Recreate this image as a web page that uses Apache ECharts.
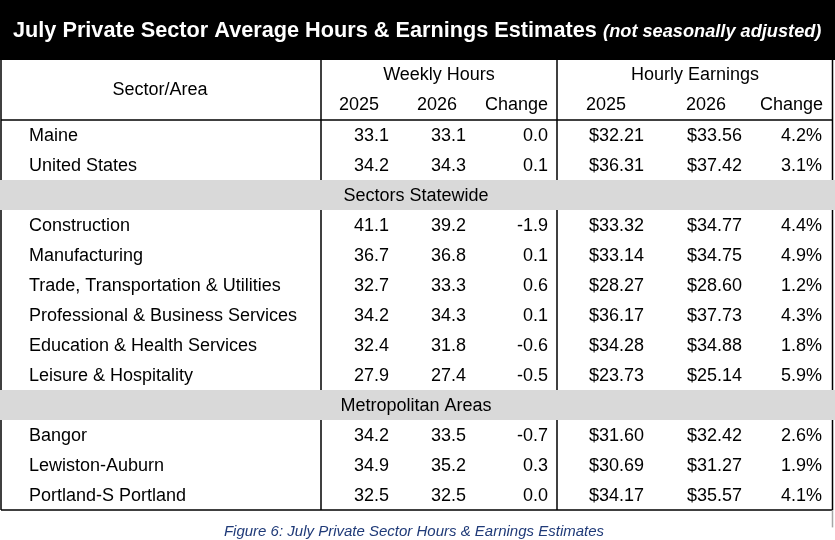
<!DOCTYPE html>
<html>
<head>
<meta charset="utf-8">
<script src="https://cdn.jsdelivr.net/npm/echarts@6/dist/echarts.min.js"></script>
<style>
html,body{margin:0;padding:0;background:#fff;}
#chart{width:835px;height:540px;}
</style>
</head>
<body>
<div id="chart"></div>
<script>
// ---------- DATA ----------
const titleMain = 'July Private Sector Average Hours & Earnings Estimates';
const titleNote = '(not seasonally adjusted)';
const caption = 'Figure 6: July Private Sector Hours & Earnings Estimates';
const firstHeader = 'Sector/Area';
const groupHeaders = ['Weekly Hours', 'Hourly Earnings'];
const subHeaders = ['2025', '2026', 'Change'];
const sectors = ['Maine', 'United States', 'Construction', 'Manufacturing',
  'Trade, Transportation & Utilities', 'Professional & Business Services',
  'Education & Health Services', 'Leisure & Hospitality',
  'Bangor', 'Lewiston-Auburn', 'Portland-S Portland'];
const hours2025 = [33.1, 34.2, 41.1, 36.7, 32.7, 34.2, 32.4, 27.9, 34.2, 34.9, 32.5];
const hours2026 = [33.1, 34.3, 39.2, 36.8, 33.3, 34.3, 31.8, 27.4, 33.5, 35.2, 32.5];
const hoursChange = [0.0, 0.1, -1.9, 0.1, 0.6, 0.1, -0.6, -0.5, -0.7, 0.3, 0.0];
const earnings2025 = [32.21, 36.31, 33.32, 33.14, 28.27, 36.17, 34.28, 23.73, 31.60, 30.69, 34.17];
const earnings2026 = [33.56, 37.42, 34.77, 34.75, 28.60, 37.73, 34.88, 25.14, 32.42, 31.27, 35.57];
const earningsChange = [4.2, 3.1, 4.4, 4.9, 1.2, 4.3, 1.8, 5.9, 2.6, 1.9, 4.1];
const sectionLabels = ['Sectors Statewide', 'Metropolitan Areas'];
const sectionStarts = [2, 8]; // section label placed before this sector index

// ---------- LAYOUT (positions in axis units: x = px columns, y = table rows) ----------
const FONT = '"Liberation Sans", Arial, sans-serif';
const L = {
  width: 835, rows: 18,
  titleX: 13, titleRow: 0.98,
  nameX: 29, sectorAreaX: 160,
  groupX: [439, 695],
  subX: [[359, 437, 548], [606, 706, 823]],
  subAlign: ['center', 'center', 'right'],
  valX: [389, 466, 548, 644, 742, 822],
  sectionX: 416,
  captionX: 414, captionRow: 17.72,
  left: 1, right: 832.5, divs: [321, 557],
  headerTop: 2, bodyTop: 4, bodyShift: 0.05
};

// ---------- BUILD TABLE ROWS ----------
const bodyRows = [];
sectors.forEach((s, i) => {
  const si = sectionStarts.indexOf(i);
  if (si >= 0) bodyRows.push({ section: sectionLabels[si] });
  bodyRows.push({ i });
});
const bodyBottom = L.bodyTop + bodyRows.length;

const cells = [];
const txt = (x, y, text, align, style) => cells.push({ x, y, text, align, style: style || {} });

// title
cells.push({ x: L.titleX, y: L.titleRow, align: 'left',
  text: '{a|' + titleMain + '} {b|' + titleNote + '}', rich: true });
// headers
txt(L.sectorAreaX, L.headerTop + 1, firstHeader, 'center');
groupHeaders.forEach((g, gi) => {
  txt(L.groupX[gi], L.headerTop + 0.5, g, 'center');
  subHeaders.forEach((s, si) => txt(L.subX[gi][si], L.headerTop + 1.5, s, L.subAlign[si]));
});
// body
const sections = [];
bodyRows.forEach((r, k) => {
  const y = L.bodyTop + k + 0.5 + L.bodyShift;
  if (r.section) {
    sections.push(L.bodyTop + k);
    txt(L.sectionX, y, r.section, 'center');
    return;
  }
  const i = r.i;
  txt(L.nameX, y, sectors[i], 'left');
  const vals = [
    hours2025[i].toFixed(1), hours2026[i].toFixed(1), hoursChange[i].toFixed(1),
    '$' + earnings2025[i].toFixed(2), '$' + earnings2026[i].toFixed(2),
    earningsChange[i].toFixed(1) + '%'
  ];
  vals.forEach((v, c) => txt(L.valX[c], y, v, 'right'));
});
// caption
txt(L.captionX, L.captionRow, caption, 'center',
  { fontSize: 15, fontStyle: 'italic', fill: '#1f3a78' });

// rectangles: [x1, y1, x2, y2, colorIndex]
const rectColors = ['#000000', '#d9d9d9'];
const rects = [[0, 0, L.width, L.headerTop, 0]];
sections.forEach(r => rects.push([0, r, L.width, r + 1, 1]));

// rules: [x1, y1, x2, y2, colorIndex]
const ruleColors = ['#000000', '#a6a6a6'];
const rules = [
  [L.left, L.bodyTop, L.right, L.bodyTop, 0],
  [L.left, bodyBottom, L.right, bodyBottom, 0],
  [L.left, L.headerTop, L.left, bodyBottom, 0],
  [L.right, L.headerTop, L.right, bodyBottom, 0],
  [L.divs[0], L.headerTop, L.divs[0], bodyBottom, 0],
  [L.divs[1], L.headerTop, L.divs[1], bodyBottom, 0],
  [L.right, bodyBottom, L.right, bodyBottom + 0.58, 1]
];

// ---------- CHART ----------
const chart = echarts.init(document.getElementById('chart'), null, { renderer: 'canvas' });
chart.setOption({
  animation: false,
  grid: { left: 0, right: 0, top: 0, bottom: 0, containLabel: false },
  xAxis: { type: 'value', min: 0, max: L.width, show: false },
  yAxis: { type: 'value', min: 0, max: L.rows, inverse: true, show: false },
  series: [
    {
      type: 'custom', z: 2, silent: true,
      encode: { x: [0, 2], y: [1, 3] },
      data: rules,
      renderItem: (params, api) => {
        const p1 = api.coord([api.value(0), api.value(1)]);
        const p2 = api.coord([api.value(2), api.value(3)]);
        return { type: 'line', shape: { x1: p1[0], y1: p1[1], x2: p2[0], y2: p2[1] },
          style: { stroke: ruleColors[api.value(4)], lineWidth: 1.5 } };
      }
    },
    {
      type: 'custom', z: 3, silent: true,
      encode: { x: [0, 2], y: [1, 3] },
      data: rects,
      renderItem: (params, api) => {
        const p1 = api.coord([api.value(0), api.value(1)]);
        const p2 = api.coord([api.value(2), api.value(3)]);
        return { type: 'rect', shape: { x: p1[0], y: p1[1], width: p2[0] - p1[0], height: p2[1] - p1[1] },
          style: { fill: rectColors[api.value(4)] } };
      }
    },
    {
      type: 'custom', z: 5, silent: true,
      encode: { x: 0, y: 1 },
      data: cells.map(c => [c.x, c.y]),
      renderItem: (params, api) => {
        const c = cells[params.dataIndex];
        const p = api.coord([api.value(0), api.value(1)]);
        if (c.rich) {
          return { type: 'text', x: p[0], y: p[1], style: {
            text: c.text, align: 'left', verticalAlign: 'middle',
            rich: {
              a: { fontFamily: FONT, fontSize: 21.7, fontWeight: 'bold', fill: '#ffffff', lineHeight: 26, verticalAlign: 'bottom' },
              b: { fontFamily: FONT, fontSize: 18.2, fontWeight: 'bold', fontStyle: 'italic', fill: '#ffffff', lineHeight: 26, verticalAlign: 'bottom', padding: [0, 0, 1, 3] }
            }
          } };
        }
        const s = c.style;
        return { type: 'text', x: p[0], y: p[1], style: {
          text: c.text, align: c.align, verticalAlign: 'middle',
          fontFamily: FONT, fontSize: s.fontSize || 18, fontStyle: s.fontStyle || 'normal',
          fill: s.fill || '#000000'
        } };
      }
    }
  ]
});
</script>
</body>
</html>
